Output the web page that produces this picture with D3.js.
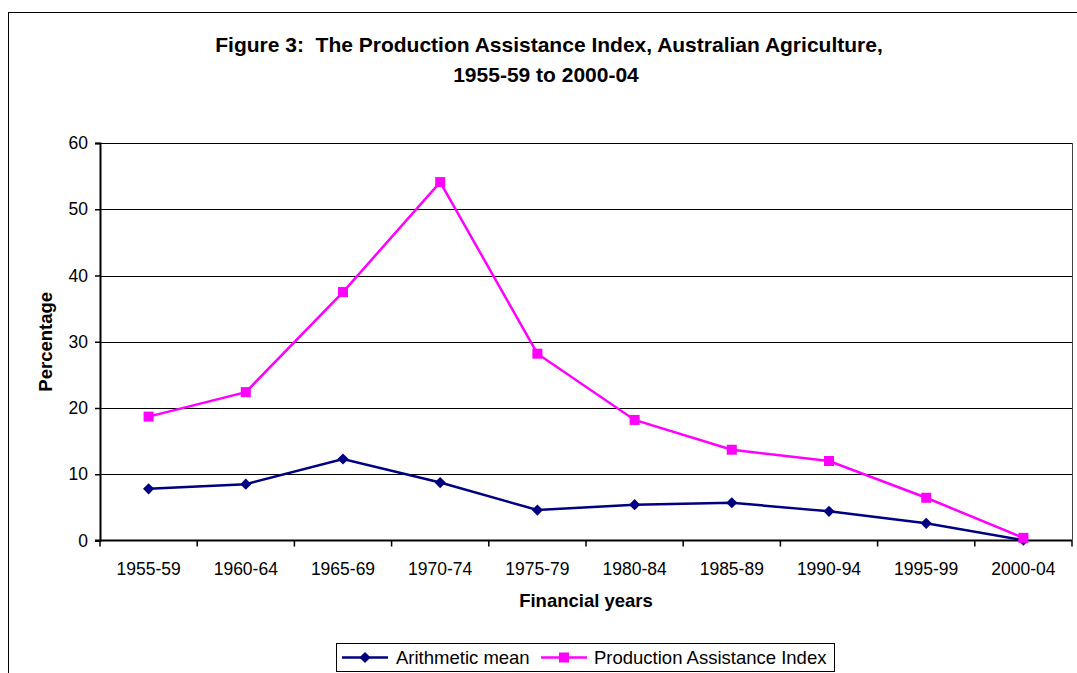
<!DOCTYPE html>
<html>
<head>
<meta charset="utf-8">
<script src="https://cdn.jsdelivr.net/npm/d3@7"></script>
<style>
  body { margin: 0; background: #fff; }
  svg { display: block; font-family: "Liberation Sans", Arial, sans-serif; }
</style>
</head>
<body>
<div id="chart"></div>
<script>
// Financial year periods
const periods = ['1955-59', '1960-64', '1965-69', '1970-74', '1975-79',
                 '1980-84', '1985-89', '1990-94', '1995-99', '2000-04'];

// Series values (percent)
const arithmeticMean = [7.8, 8.5, 12.3, 8.75, 4.6, 5.4, 5.7, 4.4, 2.6, 0.05];
const productionIndex = [18.7, 22.4, 37.5, 54.1, 28.2, 18.2, 13.7, 12.0, 6.45, 0.4];

const yTicks = [0, 10, 20, 30, 40, 50, 60];

const width = 1077, height = 673;
const margin = {top: 143, right: 5, bottom: 132.5, left: 100};

const svg = d3.select('#chart')
  .append('svg')
    .attr('width', width)
    .attr('height', height);

// Outer chart border
svg.append('rect')
  .attr('x', 8.5).attr('y', 12.5)
  .attr('width', 1100).attr('height', 700)
  .attr('fill', 'none')
  .attr('stroke', '#000')
  .attr('stroke-width', 1);

const x = d3.scaleBand()
  .domain(periods)
  .range([margin.left, width - margin.right])
  .padding(0);

const y = d3.scaleLinear()
  .domain([0, 60])
  .range([height - margin.bottom, margin.top]);

// Gridlines
svg.append('g')
  .selectAll('line')
  .data(yTicks.filter(d => d > 0))
  .enter()
  .append('line')
    .attr('x1', margin.left)
    .attr('x2', width - margin.right)
    .attr('y1', d => Math.round(y(d)) + 0.5)
    .attr('y2', d => Math.round(y(d)) + 0.5)
    .attr('stroke', '#000')
    .attr('stroke-width', 1);

// Plot area right border
svg.append('line')
  .attr('x1', width - margin.right + 0.5)
  .attr('x2', width - margin.right + 0.5)
  .attr('y1', y(60))
  .attr('y2', y(0))
  .attr('stroke', '#444');

// Y axis
const yAxis = svg.append('g')
  .attr('transform', `translate(${margin.left},0)`)
  .call(d3.axisLeft(y).tickValues(yTicks).tickSize(5).tickPadding(7));
yAxis.select('.domain').attr('stroke-width', 2);
yAxis.selectAll('.tick line').attr('stroke-width', 1.5);
yAxis.selectAll('text')
  .attr('font-size', 17.5)
  .attr('fill', '#000');

// X axis, ticks on band boundaries
const xAxisG = svg.append('g')
  .attr('transform', `translate(0,${y(0)})`);
xAxisG.append('line')
  .attr('x1', margin.left - 5)
  .attr('x2', width - margin.right)
  .attr('stroke', '#000')
  .attr('stroke-width', 2);
xAxisG.selectAll('.xtick')
  .data(periods.concat(['end']))
  .enter()
  .append('line')
    .attr('x1', (d, i) => margin.left + i * x.bandwidth())
    .attr('x2', (d, i) => margin.left + i * x.bandwidth())
    .attr('y1', 0)
    .attr('y2', 6)
    .attr('stroke', '#000')
    .attr('stroke-width', 1.5);
xAxisG.selectAll('.xlabel')
  .data(periods)
  .enter()
  .append('text')
    .attr('x', d => x(d) + x.bandwidth() / 2)
    .attr('y', 34.5)
    .attr('text-anchor', 'middle')
    .attr('font-size', 17.5)
    .text(d => d);

// Lines
const line = d3.line()
  .x((d, i) => x(periods[i]) + x.bandwidth() / 2)
  .y(d => y(d));

svg.append('path')
  .datum(productionIndex)
  .attr('d', line)
  .attr('fill', 'none')
  .attr('stroke', '#ff00ff')
  .attr('stroke-width', 2.5);

svg.append('path')
  .datum(arithmeticMean)
  .attr('d', line)
  .attr('fill', 'none')
  .attr('stroke', '#000080')
  .attr('stroke-width', 2.5);

// Markers
const diamond = d3.symbol().type(d3.symbolDiamond2).size(80);
svg.append('g')
  .selectAll('path')
  .data(arithmeticMean)
  .enter()
  .append('path')
    .attr('d', diamond)
    .attr('transform', (d, i) => `translate(${x(periods[i]) + x.bandwidth() / 2},${y(d)})`)
    .attr('fill', '#000080');

svg.append('g')
  .selectAll('rect')
  .data(productionIndex)
  .enter()
  .append('rect')
    .attr('x', (d, i) => x(periods[i]) + x.bandwidth() / 2 - 5)
    .attr('y', d => y(d) - 5)
    .attr('width', 10)
    .attr('height', 10)
    .attr('fill', '#ff00ff');

// Title
const title = svg.append('text')
  .attr('text-anchor', 'middle')
  .attr('font-size', 21)
  .attr('font-weight', 'bold')
  .attr('xml:space', 'preserve');
title.append('tspan').attr('x', 549).attr('y', 52)
  .text('Figure 3:  The Production Assistance Index, Australian Agriculture,');
title.append('tspan').attr('x', 546).attr('y', 82)
  .text('1955-59 to 2000-04');

// Axis titles
svg.append('text')
  .attr('x', (margin.left + width - margin.right) / 2)
  .attr('y', 607)
  .attr('text-anchor', 'middle')
  .attr('font-size', 18.5)
  .attr('font-weight', 'bold')
  .text('Financial years');

svg.append('text')
  .attr('transform', `translate(52,${(y(0) + y(60)) / 2}) rotate(-90)`)
  .attr('text-anchor', 'middle')
  .attr('font-size', 18.5)
  .attr('font-weight', 'bold')
  .text('Percentage');

// Legend
const legend = svg.append('g');
legend.append('rect')
  .attr('x', 336.5).attr('y', 643.5)
  .attr('width', 498).attr('height', 28)
  .attr('fill', '#fff')
  .attr('stroke', '#000');

const legendItems = [
  {name: 'Arithmetic mean', color: '#000080', lx: 342, tx: 396, shape: 'diamond'},
  {name: 'Production Assistance Index', color: '#ff00ff', lx: 541, tx: 594, shape: 'square'}
];
legendItems.forEach(item => {
  legend.append('line')
    .attr('x1', item.lx).attr('x2', item.lx + 46)
    .attr('y1', 657.5).attr('y2', 657.5)
    .attr('stroke', item.color)
    .attr('stroke-width', 2.5);
  if (item.shape === 'diamond') {
    legend.append('path')
      .attr('d', diamond)
      .attr('transform', `translate(${item.lx + 23},657.5)`)
      .attr('fill', item.color);
  } else {
    legend.append('rect')
      .attr('x', item.lx + 18).attr('y', 652.5)
      .attr('width', 10).attr('height', 10)
      .attr('fill', item.color);
  }
  legend.append('text')
    .attr('x', item.tx)
    .attr('y', 664)
    .attr('font-size', 18.5)
    .text(item.name);
});
</script>
</body>
</html>
